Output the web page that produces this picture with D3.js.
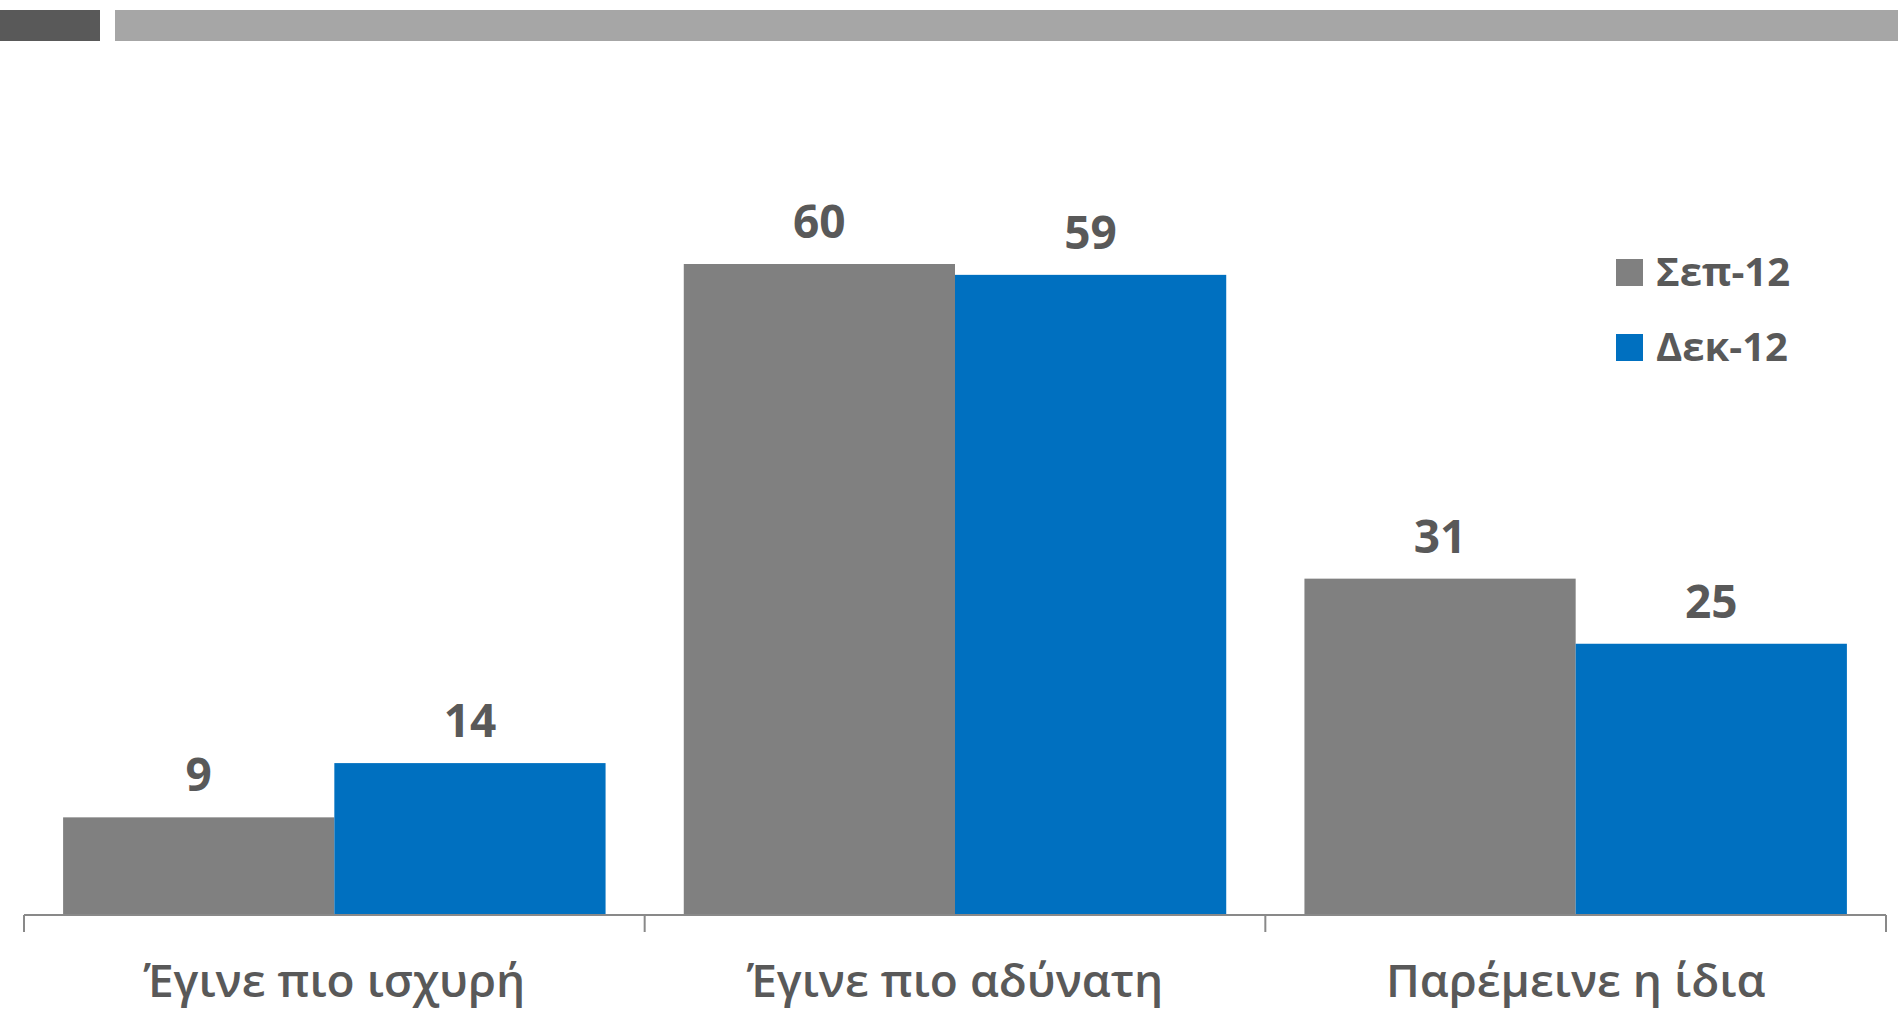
<!DOCTYPE html>
<html>
<head>
<meta charset="utf-8">
<script src="https://cdn.jsdelivr.net/npm/d3@7"></script>
<style>
  body { margin: 0; background: #fff; }
  svg { display: block; font-family: "Open Sans", "Noto Sans", sans-serif; }
</style>
</head>
<body>
<svg id="chart" width="1898" height="1009"></svg>
<script>
const categories = ['Έγινε πιο ισχυρή', 'Έγινε πιο αδύνατη', 'Παρέμεινε η ίδια'];
const seriesNames = ['Σεπ-12', 'Δεκ-12'];
const sep12 = [9, 60, 31];
const dec12 = [14, 59, 25];
const colors = ['#808080', '#0070C0'];

const W = 1898, H = 1009;
const svg = d3.select('#chart');

// decorative header bars
svg.append('rect').attr('x', 0).attr('y', 10).attr('width', 100).attr('height', 31).attr('fill', '#595959');
svg.append('rect').attr('x', 115).attr('y', 10).attr('width', W - 115).attr('height', 31).attr('fill', '#a6a6a6');

const baseY = 915;
const x0 = d3.scaleBand().domain(categories).range([24, 1886]).paddingInner(0.126).paddingOuter(0.063);
const x1 = d3.scaleBand().domain(seriesNames).range([0, x0.bandwidth()]);
const y = d3.scaleLinear().domain([0, 70]).range([baseY, baseY - 10.85 * 70]);

const rows = categories.map((c, i) => ({ cat: c, values: [sep12[i], dec12[i]] }));

const groups = svg.selectAll('.grp').data(rows).enter().append('g')
  .attr('class', 'grp')
  .attr('transform', d => `translate(${x0(d.cat)},0)`);

groups.selectAll('rect').data(d => d.values.map((v, j) => ({ v, s: seriesNames[j], j })))
  .enter().append('rect')
  .attr('x', d => x1(d.s))
  .attr('y', d => y(d.v))
  .attr('width', x1.bandwidth())
  .attr('height', d => baseY - y(d.v))
  .attr('fill', d => colors[d.j]);

groups.selectAll('text.val').data(d => d.values.map((v, j) => ({ v, s: seriesNames[j] })))
  .enter().append('text')
  .attr('class', 'val')
  .attr('x', d => x1(d.s) + x1.bandwidth() / 2)
  .attr('y', d => y(d.v) - 26)
  .attr('text-anchor', 'middle')
  .attr('font-size', 46)
  .attr('font-weight', 'bold')
  .attr('fill', '#595959')
  .text(d => d.v);

// x axis with category ticks at band edges
const axis = svg.append('g');
axis.append('line').attr('x1', 24).attr('x2', 1886).attr('y1', baseY).attr('y2', baseY)
  .attr('stroke', '#898989').attr('stroke-width', 2);
const edges = categories.map(c => x0(c) - x0.step() * x0.paddingOuter()).concat([1886]);
axis.selectAll('line.tick').data(edges).enter().append('line')
  .attr('class', 'tick')
  .attr('x1', d => d).attr('x2', d => d)
  .attr('y1', baseY).attr('y2', baseY + 17)
  .attr('stroke', '#898989').attr('stroke-width', 2);

axis.selectAll('text.cat').data(categories).enter().append('text')
  .attr('class', 'cat')
  .attr('x', d => x0(d) + x0.bandwidth() / 2)
  .attr('y', 997)
  .attr('text-anchor', 'middle')
  .attr('font-size', 46)
  .attr('font-weight', 600)
  .attr('fill', '#595959')
  .text(d => d);

// legend
const legend = svg.append('g').attr('transform', 'translate(1616,259)');
const li = legend.selectAll('g').data(seriesNames).enter().append('g')
  .attr('transform', (d, i) => `translate(0,${i * 75})`);
li.append('rect').attr('width', 27).attr('height', 27).attr('fill', (d, i) => colors[i]);
li.append('text').attr('x', 40).attr('y', 27)
  .attr('font-size', 40).attr('font-weight', 'bold').attr('fill', '#595959')
  .text(d => d);
</script>
</body>
</html>
